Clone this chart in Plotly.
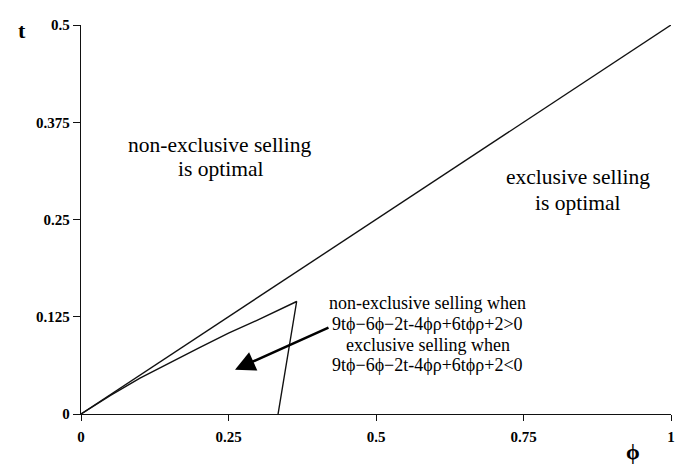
import plotly.graph_objects as go

# data
diag_x = [0, 1]
diag_y = [0, 0.5]
boundary_x = [0, 0.05, 0.1, 0.15, 0.2, 0.25, 0.3, 0.3655, 0.334]
boundary_y = [0, 0.024, 0.046, 0.066, 0.085, 0.104, 0.121, 0.1446, 0]
x_ticks = [0, 0.25, 0.5, 0.75, 1]
x_tick_labels = ["0", "0.25", "0.5", "0.75", "1"]
y_ticks = [0, 0.125, 0.25, 0.375, 0.5]
y_tick_labels = ["0", "0.125", "0.25", "0.375", "0.5"]

FONT = "Liberation Serif, Times New Roman, serif"
INK = "#000"

fig = go.Figure()
fig.add_trace(go.Scatter(x=diag_x, y=diag_y, mode="lines",
                         line=dict(color="#111", width=1.4), showlegend=False))
fig.add_trace(go.Scatter(x=boundary_x, y=boundary_y, mode="lines",
                         line=dict(color="#111", width=1.4), showlegend=False))

ann = []
def txt(x, y, s, size):
    ann.append(dict(x=x, y=y, xref="x", yref="y", showarrow=False, text=s,
                    xanchor="center", yanchor="middle",
                    font=dict(family=FONT, size=size, color=INK)))

txt(0.2356, 0.3453, "non-exclusive selling", 21.5)
txt(0.2356, 0.3150, "is optimal", 21.5)
txt(0.842, 0.3049, "exclusive selling", 21.5)
txt(0.842, 0.2709, "is optimal", 21.5)
txt(0.588, 0.1433, "non-exclusive selling when", 18)
txt(0.588, 0.1155, "9tϕ−6ϕ−2t-4ϕρ+6tϕρ+2>0", 18)
txt(0.588, 0.0890, "exclusive selling when", 18)
txt(0.588, 0.0625, "9tϕ−6ϕ−2t-4ϕρ+6tϕρ+2<0", 18)

ann.append(dict(x=0.261, y=0.057, ax=0.422, ay=0.112, xref="x", yref="y",
                axref="x", ayref="y", showarrow=True, text="",
                arrowhead=2, arrowsize=1.6, arrowwidth=2.5, arrowcolor=INK))
ann.append(dict(x=-0.1, y=0.985, xref="paper", yref="paper", showarrow=False, text="<b>t</b>",
                xanchor="center", yanchor="middle",
                font=dict(family=FONT, size=22, color=INK)))
ann.append(dict(x=0.936, y=-0.096, xref="paper", yref="paper", showarrow=False, text="<b>ϕ</b>",
                xanchor="center", yanchor="middle",
                font=dict(family=FONT, size=22, color=INK)))
fig.update_layout(annotations=ann)

fig.update_xaxes(range=[0, 1], tickvals=x_ticks, ticktext=x_tick_labels,
                 showline=True, linecolor="#111", linewidth=1.4, showgrid=False, zeroline=False,
                 ticks="outside", ticklen=6, tickwidth=1.4, tickcolor="#111",
                 ticklabelstandoff=3,
                 tickfont=dict(family=FONT, size=15, color=INK, weight="bold"))
fig.update_yaxes(range=[0, 0.5], tickvals=y_ticks, ticktext=y_tick_labels,
                 showline=True, linecolor="#111", linewidth=1.4, showgrid=False, zeroline=False,
                 ticks="outside", ticklen=7, tickwidth=1.4, tickcolor="#111",
                 tickfont=dict(family=FONT, size=15, color=INK, weight="bold"))

# page body adds an 8px offset, so the figure is sized to fit the window
fig.update_layout(width=681, height=458, margin=dict(l=73, r=18, t=9, b=52),
                  plot_bgcolor="white", paper_bgcolor="white",
                  font=dict(family=FONT, color=INK))
fig.write_html("out.html")
